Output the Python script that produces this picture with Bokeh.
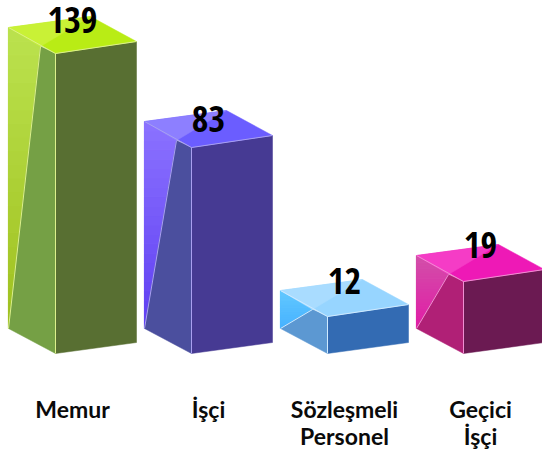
from bokeh.core.properties import value
from bokeh.embed import file_html
from bokeh.models import ColumnDataSource, Range1d
from bokeh.plotting import figure
from bokeh.resources import INLINE

categories = ["Memur", "İşçi", "Sözleşmeli\nPersonel", "Geçici\nİşçi"]
values = [139, 83, 12, 19]
drawn_heights = [300, 206, 37, 72]   # box height as pictured (the source is not to scale)
label_lift = [19, 14, 21, 22]

top_light = ["#c9f136", "#8d7fff", "#a9dcff", "#f53cc6"]
top_main = ["#b9ec15", "#6b5dff", "#97d5ff", "#ee19b6"]
side_top = ["#bbe24e", "#8b72ff", "#62c8ff", "#d24fa9"]
side_bottom = ["#9fc01f", "#5f3ff2", "#45b1ff", "#e11ca6"]
side_dark = ["#75a045", "#4b4f9e", "#5c98d2", "#b02076"]
front = ["#586f32", "#463a93", "#336bb3", "#6b1a52"]
edge = ["#dcf08c", "#a9a0f0", "#cfeaff", "#f08fd2"]

W, H = 542, 455
BASE = 353                # pixel row of the bars' front bottom corner
FIRST, STEP = 55, 136     # pixel column of the first front corner and the spacing
BANDS = 22

p = figure(width=W, height=H, output_backend="svg", toolbar_location=None,
           x_range=Range1d(0, W), y_range=Range1d(BASE - H, BASE),
           min_border=0, outline_line_color=None, background_fill_color="white",
           border_fill_color="white")
p.axis.visible = False
p.grid.visible = False


def clip(poly, ymin, ymax):
    def cut(pts, keep, edge_y):
        out = []
        for i, a in enumerate(pts):
            b = pts[(i + 1) % len(pts)]
            if keep(a[1]):
                out.append(a)
            if keep(a[1]) != keep(b[1]):
                t = (edge_y - a[1]) / (b[1] - a[1])
                out.append((a[0] + t * (b[0] - a[0]), edge_y))
        return out
    r = cut(poly, lambda y: y >= ymin, ymin)
    return cut(r, lambda y: y <= ymax, ymax) if r else r


def mix(c1, c2, t):
    a = [int(c1[i:i + 2], 16) for i in (1, 3, 5)]
    b = [int(c2[i:i + 2], 16) for i in (1, 3, 5)]
    return "#%02x%02x%02x" % tuple(round(x + (y - x) * t) for x, y in zip(a, b))


def poly(pts, color, lw=0.5):
    p.patch([q[0] for q in pts], [q[1] for q in pts], fill_color=color,
            line_color=color, line_width=lw)


for i, h in enumerate(drawn_heights):
    fx = FIRST + STEP * i
    lx, rx, bx, ix = fx - 47, fx + 81, fx + 35, fx - 15
    lf_b, rf_b = (lx, 25), (rx, 11)
    f_b = (fx, 0)
    f_t, l_t, r_t, b_t = (fx, h), (lx, h + 26), (rx, h + 12), (bx, h + 37)
    inner = (ix, h + 7)

    tri = [lf_b, inner, l_t]
    lo, hi = lf_b[1], l_t[1]
    for k in range(BANDS):
        y0 = lo + (hi - lo) * k / BANDS
        y1 = lo + (hi - lo) * (k + 1) / BANDS
        band = clip(tri, y0, y1)
        if len(band) >= 3:
            poly(band, mix(side_bottom[i], side_top[i], (k + 0.5) / BANDS), 1.2)
    poly([f_b, rf_b, r_t, f_t], front[i])
    poly([lf_b, f_b, f_t, inner], side_dark[i])
    poly([l_t, b_t, r_t, f_t], top_main[i])
    poly([l_t, b_t, inner], top_light[i])

    for a, b in ((l_t, f_t), (f_t, r_t), (f_t, f_b), (lf_b, inner)):
        p.line([a[0], b[0]], [a[1], b[1]], line_color=edge[i], line_width=1)

label_src = ColumnDataSource(dict(
    x=[FIRST + STEP * i + 17 for i in range(len(values))],
    y=[h + lift for h, lift in zip(drawn_heights, label_lift)],
    t=[str(v) for v in values]))
p.text("x", "y", text="t", source=label_src, text_align="center", text_baseline="alphabetic",
       y_offset=-15, text_font=value("Open Sans Condensed"), text_font_style="bold",
       text_font_size="36px", text_color="#000000")

cx, cy, ct = [], [], []
for i, c in enumerate(categories):
    for j, line in enumerate(c.split("\n")):
        cx.append(FIRST + STEP * i + 17)
        cy.append(BASE - 417 - 27 * j)
        ct.append(line)
p.text(cx, cy, text=ct, text_align="center", text_baseline="alphabetic", y_offset=-9,
       text_font=value("Lato"), text_font_style="bold",
       text_font_size="23px", text_color="#0a0a0a")

open("out.html", "w").write(file_html(p, INLINE))
